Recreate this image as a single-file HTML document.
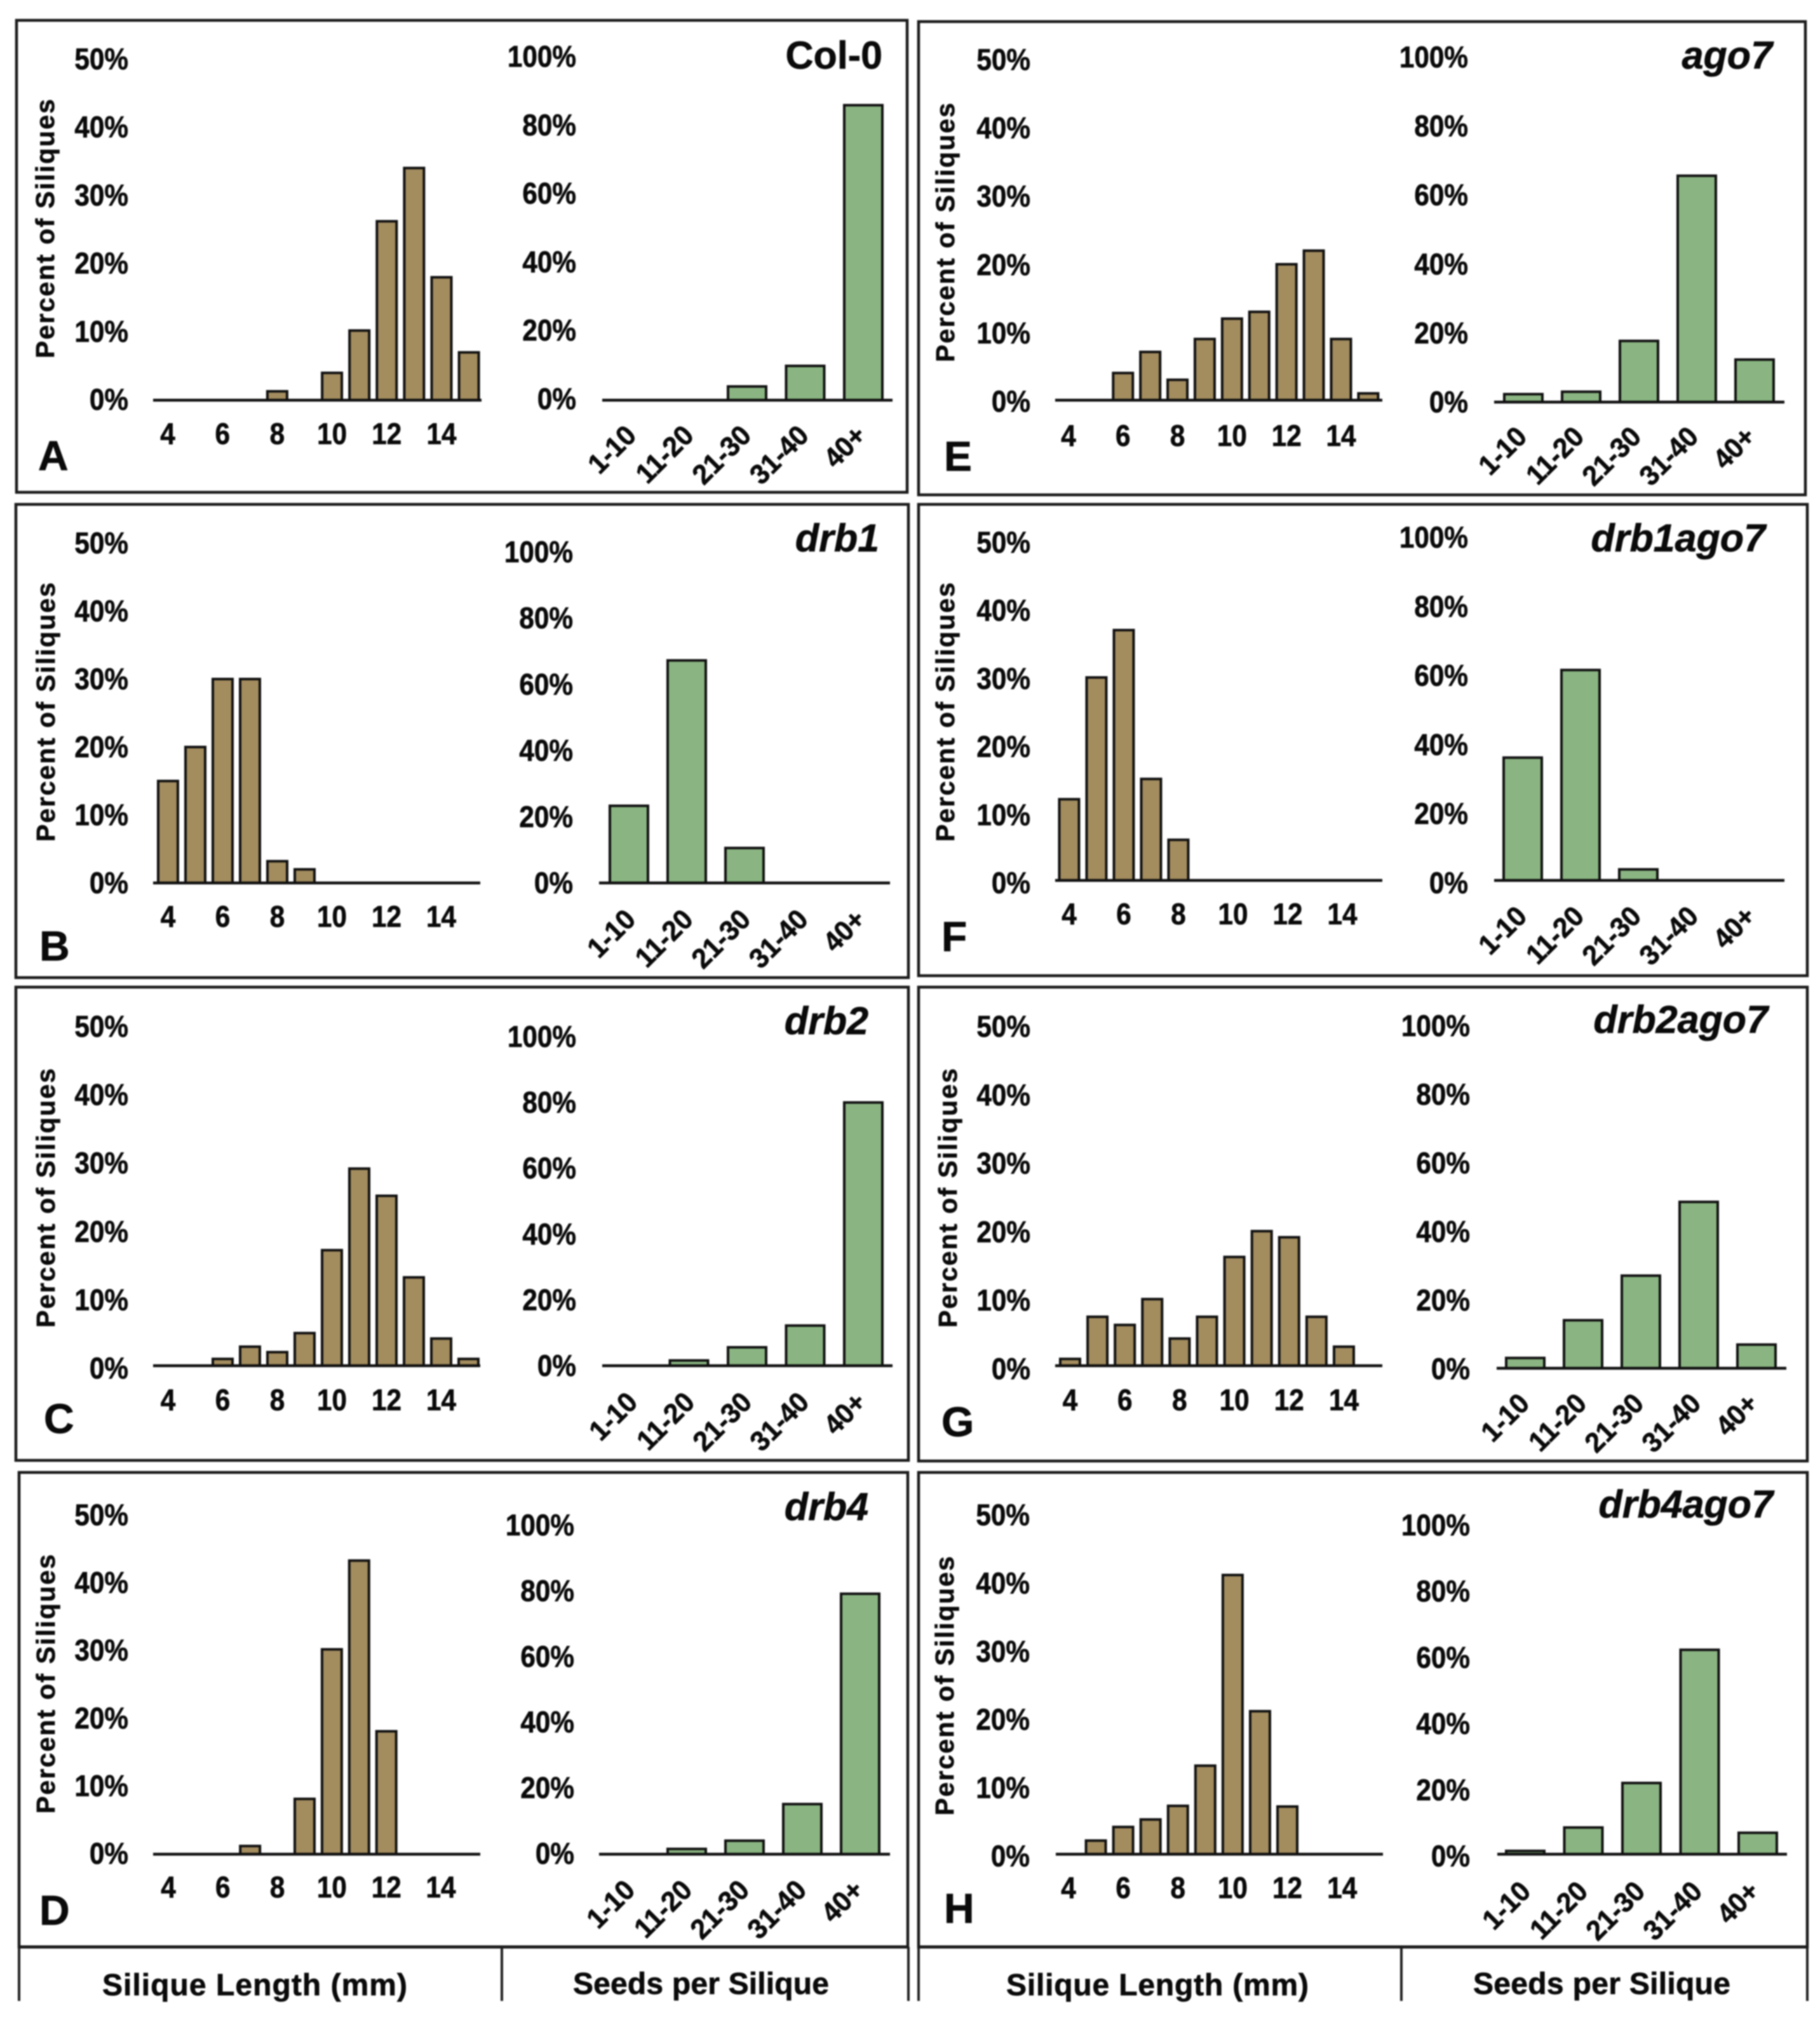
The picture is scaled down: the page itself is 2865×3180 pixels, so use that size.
<!DOCTYPE html>
<html lang="en">
<head>
<meta charset="utf-8">
<title>Silique length and seed distributions</title>
<style>
html,body{margin:0;padding:0;background:#fff;width:2865px;height:3180px;overflow:hidden}
svg{display:block;filter:blur(1px)}
text{font-family:"Liberation Sans",Arial,sans-serif;fill:#0a0a0a;stroke:#0a0a0a;stroke-width:.7px}
</style>
</head>
<body>
<svg id="figure" xmlns="http://www.w3.org/2000/svg" width="2865" height="3180" viewBox="0 0 2865 3180">
<rect x="0" y="0" width="2865" height="3180" fill="#fff"/>
<g id="footer">
<line x1="30" y1="3065" x2="30" y2="3150" stroke="#222" stroke-width="4"/>
<line x1="790" y1="3065" x2="790" y2="3150" stroke="#222" stroke-width="4"/>
<line x1="1430" y1="3065" x2="1430" y2="3150" stroke="#222" stroke-width="4"/>
<line x1="1446" y1="3065" x2="1446" y2="3150" stroke="#222" stroke-width="4"/>
<line x1="2206" y1="3065" x2="2206" y2="3150" stroke="#222" stroke-width="4"/>
<line x1="2845" y1="3065" x2="2845" y2="3150" stroke="#222" stroke-width="4"/>
<text x="161" y="3141" font-size="48" font-weight="700" textLength="480">Silique Length (mm)</text>
<text x="902" y="3139" font-size="48" font-weight="700" textLength="403">Seeds per Silique</text>
<text x="1584" y="3141" font-size="48" font-weight="700" textLength="476">Silique Length (mm)</text>
<text x="2319" y="3139" font-size="48" font-weight="700" textLength="405">Seeds per Silique</text>
</g>
<g id="panels"></g>
</svg>
<script>
/* ---------- categories and tick labels ---------- */
const lengthCategories = [4,5,6,7,8,9,10,11,12,13,14,15];
const lengthTicks = [4,6,8,10,12,14];
const seedCategories = ["1-10","11-20","21-30","31-40","40+"];
const lengthPercentTicks = [0,10,20,30,40,50];
const seedPercentTicks = [0,20,40,60,80,100];

/* ---------- series values (percent of siliques) ---------- */
const lengthColA = [0,0,0,0,1.3,0,4,10.2,26.2,34,18,7];
const seedsColA = [0,0,4,10,86];
const lengthDrb1B = [15,20,30,30,3.2,2,0,0,0,0,0,0];
const seedsDrb1B = [23.4,67.5,10.6,0,0];
const lengthDrb2C = [0,0,1,2.8,2,4.8,17,29,25,13,4,1];
const seedsDrb2C = [0,1.6,5.6,12.2,80];
const lengthDrb4D = [0,0,0,1.2,0,8.1,30,43,18,0,0,0];
const seedsDrb4D = [0,1.6,4.1,15.2,79];
const lengthAgo7E = [0,0,4,7.1,3,9,12,13,20,22,9,1];
const seedsAgo7E = [2.3,3,17.7,65.5,12.3];
const lengthDrb1Ago7F = [12,30,37,15,6,0,0,0,0,0,0,0];
const seedsDrb1Ago7F = [35.6,61,3.2,0,0];
const lengthDrb2Ago7G = [1,7.2,6,9.8,4,7.2,16,19.8,18.9,7.2,2.8,0];
const seedsDrb2Ago7G = [3,14,27,48.5,6.9];
const lengthDrb4Ago7H = [0,2,4,5.1,7.1,13,41,21,7,0,0,0];
const seedsDrb4Ago7H = [1,8.1,21.6,62,6.5];

/* ---------- panel layout (geometry only) ---------- */
const panelLayouts = [
 {id:"a",letter:"A",title:"Col-0",italic:false,lengths:lengthColA,seeds:seedsColA,
  box:[26,32,1428,775],letterPos:[60,740],titlePos:[1389,108],yTitle:[85,564,408],
  L:{base:630,x4:264,unit:43.1,sy:10.75,lab0:628,labTop:92,labR:202,axis:[241,758],tickY:699},
  R:{base:630,x1:993,step:91.5,sy:5.4,lab0:627,labTop:88,labR:907,axis:[948,1405],tickX:1004,tickDX:90.5,tickY:688}},
 {id:"b",letter:"B",title:"drb1",italic:true,lengths:lengthDrb1B,seeds:seedsDrb1B,
  box:[25,794,1430,1539],letterPos:[62,1512],titlePos:[1384,868],yTitle:[86,1325,408],
  L:{base:1390,x4:264.5,unit:43,sy:10.7,lab0:1389,labTop:854,labR:202,axis:[241,756],tickY:1459},
  R:{base:1390,x1:990,step:91,sy:5.19,lab0:1389,labTop:868,labR:902,axis:[943,1401],tickX:1003,tickDX:90.5,tickY:1450}},
 {id:"c",letter:"C",title:"drb2",italic:true,lengths:lengthDrb2C,seeds:seedsDrb2C,
  box:[25,1554,1430,2299],letterPos:[69,2256],titlePos:[1367,1628],yTitle:[86,2090,408],
  L:{base:2150,x4:264.5,unit:43,sy:10.7,lab0:2153,labTop:1615,labR:202,axis:[241,756],tickY:2220},
  R:{base:2150,x1:993,step:91.5,sy:5.18,lab0:2149,labTop:1631,labR:907,axis:[948,1405],tickX:1006,tickDX:90,tickY:2210}},
 {id:"d",letter:"D",title:"drb4",italic:true,lengths:lengthDrb4D,seeds:seedsDrb4D,
  box:[30,2318,1429,3065],letterPos:[62,3030],titlePos:[1367,2393],yTitle:[86,2855,408],
  L:{base:2919,x4:265,unit:42.9,sy:10.75,lab0:2917,labTop:2384,labR:202,axis:[241,756],tickY:2987},
  R:{base:2919,x1:990,step:91,sy:5.19,lab0:2917,labTop:2400,labR:904,axis:[943,1401],tickX:1002,tickDX:90,tickY:2978}},
 {id:"e",letter:"E",title:"ago7",italic:true,lengths:lengthAgo7E,seeds:seedsAgo7E,
  box:[1446,34,2842,779],letterPos:[1486,741],titlePos:[2790,108],yTitle:[1502,570,408],
  L:{base:630,x4:1682,unit:42.9,sy:10.7,lab0:631,labTop:93,labR:1622,axis:[1661,2176],tickY:702},
  R:{base:633,x1:2398,step:91,sy:5.44,lab0:632,labTop:89,labR:2311,axis:[2352,2809],tickX:2406,tickDX:90,tickY:690}},
 {id:"f",letter:"F",title:"drb1ago7",italic:true,lengths:lengthDrb1Ago7F,seeds:seedsDrb1Ago7F,
  box:[1446,794,2845,1536],letterPos:[1482,1497],titlePos:[2779,868],yTitle:[1502,1325,408],
  L:{base:1386,x4:1683,unit:43,sy:10.65,lab0:1389,labTop:853,labR:1622,axis:[1661,2176],tickY:1455},
  R:{base:1386,x1:2397,step:91,sy:5.43,lab0:1389,labTop:845,labR:2311,axis:[2352,2809],tickX:2406,tickDX:90,tickY:1445}},
 {id:"g",letter:"G",title:"drb2ago7",italic:true,lengths:lengthDrb2Ago7G,seeds:seedsDrb2Ago7G,
  box:[1446,1554,2845,2300],letterPos:[1482,2261],titlePos:[2783,1626],yTitle:[1506,2090,408],
  L:{base:2150,x4:1684.5,unit:43.1,sy:10.7,lab0:2154,labTop:1615,labR:1622,axis:[1661,2176],tickY:2220},
  R:{base:2154,x1:2401,step:91,sy:5.4,lab0:2154,labTop:1614,labR:2314,axis:[2356,2812],tickX:2410,tickDX:90,tickY:2212}},
 {id:"h",letter:"H",title:"drb4ago7",italic:true,lengths:lengthDrb4Ago7H,seeds:seedsDrb4Ago7H,
  box:[1446,2318,2845,3065],letterPos:[1486,3027],titlePos:[2791,2389],yTitle:[1501,2858,408],
  L:{base:2919,x4:1682,unit:43.07,sy:10.72,lab0:2921,labTop:2384,labR:1621,axis:[1662,2177],tickY:2988},
  R:{base:2919,x1:2401,step:91.5,sy:5.19,lab0:2921,labTop:2400,labR:2314,axis:[2357,2813],tickX:2412,tickDX:90,tickY:2980}}
];

const NS = "http://www.w3.org/2000/svg";
const BROWN = "#a38c5e", GREEN = "#8ab582", INK = "#111";
const root = document.getElementById("panels");

function svgEl(tag, parent, attrs){
  const el = document.createElementNS(NS, tag);
  for (const k in attrs) el.setAttribute(k, attrs[k]);
  parent.appendChild(el);
  return el;
}
function linearY(base, pxPerPct){ return v => base - v * pxPerPct; }
function bandX(origin, step){ return i => origin + i * step; }

function drawBars(g, values, xFn, yFn, base, width, fill, name){
  values.forEach((v, i) => {
    if (v <= 0) return;
    const top = yFn(v);
    const bar = svgEl("rect", g, {x: xFn(i) - width / 2, y: top, width: width, height: base - top, fill: fill, stroke: INK, "stroke-width": 4});
    
    
  });
}
function drawAxisLine(g, axis, base, name){
  const line = svgEl("line", g, {x1: axis[0], x2: axis[1], y1: base, y2: base, stroke: INK, "stroke-width": 4.5});
  
  
}
function drawPercentLabels(g, ticks, cfg, name){
  const maxTick = ticks[ticks.length - 1];
  ticks.forEach(t => {
    const cy = cfg.lab0 + (cfg.labTop - cfg.lab0) * t / maxTick;
    const label = svgEl("text", g, {transform: "translate(" + cfg.labR + "," + (cy + 17) + ") scale(.89,1)", "font-size": 47.5, "font-weight": 700, "text-anchor": "end"});
    label.textContent = t + "%";
    
    
  });
}

panelLayouts.forEach(p => {
  const panel = svgEl("g", root, {});
  
  

  const frame = svgEl("rect", panel, {x: p.box[0], y: p.box[1], width: p.box[2] - p.box[0], height: p.box[3] - p.box[1], fill: "none", stroke: "#1c1c1c", "stroke-width": 4.5});
  
  

  const letter = svgEl("text", panel, {x: p.letterPos[0], y: p.letterPos[1], "font-size": 66, "font-weight": 700});
  letter.textContent = p.letter;
  
  

  const title = svgEl("text", panel, {x: p.titlePos[0], y: p.titlePos[1], "font-size": 61, "font-weight": 700, "text-anchor": "end", "font-style": p.italic ? "italic" : "normal"});
  title.textContent = p.title;
  
  

  const yTitle = svgEl("text", panel, {transform: "translate(" + p.yTitle[0] + "," + p.yTitle[1] + ") rotate(-90)", "font-size": 41, "font-weight": 700, textLength: p.yTitle[2]});
  yTitle.textContent = "Percent of Siliques";
  
  

  /* silique length histogram */
  const left = svgEl("g", panel, {});
  
  
  const lengthY = linearY(p.L.base, p.L.sy);
  const lengthX = bandX(p.L.x4, p.L.unit);
  drawBars(left, p.lengths, lengthX, lengthY, p.L.base, 31, BROWN, 'length');
  drawAxisLine(left, p.L.axis, p.L.base, 'length');
  drawPercentLabels(left, lengthPercentTicks, p.L, 'length');
  lengthTicks.forEach(t => {
    const x = lengthX(lengthCategories.indexOf(t));
    const tick = svgEl("text", left, {transform: "translate(" + x + "," + p.L.tickY + ") scale(.89,1)", "font-size": 47.5, "font-weight": 700, "text-anchor": "middle"});
    tick.textContent = t;
    
    
  });

  /* seeds per silique bars */
  const right = svgEl("g", panel, {});
  
  
  const seedY = linearY(p.R.base, p.R.sy);
  const seedX = bandX(p.R.x1, p.R.step);
  drawBars(right, p.seeds, seedX, seedY, p.R.base, 60, GREEN, 'seeds');
  drawAxisLine(right, p.R.axis, p.R.base, 'seeds');
  drawPercentLabels(right, seedPercentTicks, p.R, 'seeds');
  seedCategories.forEach((c, i) => {
    const x = p.R.tickX + i * p.R.tickDX;
    const tick = svgEl("text", right, {transform: "translate(" + x + "," + p.R.tickY + ") rotate(-45) scale(.97,1)", "font-size": 44, "font-weight": 700, "text-anchor": "end"});
    tick.textContent = c;
    
    
  });
});

/* full-width divider lines above the footer */
const footer = document.getElementById("footer");
[[30,1430],[1446,2845]].forEach(span => {
  const rule = svgEl("line", footer, {x1: span[0], x2: span[1], y1: 3065, y2: 3065, stroke: "#222", "stroke-width": 5});
  
  
});
</script>
</body>
</html>
